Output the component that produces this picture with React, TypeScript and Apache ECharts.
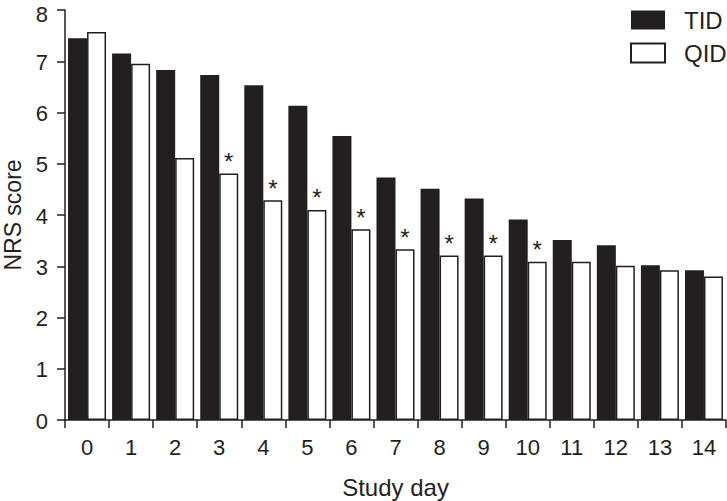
import React, { useEffect, useRef } from "react";
import * as echarts from "echarts";

const days = ["0", "1", "2", "3", "4", "5", "6", "7", "8", "9", "10", "11", "12", "13", "14"];
const tid = [7.45, 7.15, 6.83, 6.73, 6.53, 6.13, 5.54, 4.73, 4.51, 4.32, 3.91, 3.51, 3.41, 3.02, 2.92];
const qid = [7.57, 6.95, 5.11, 4.81, 4.29, 4.1, 3.72, 3.33, 3.21, 3.21, 3.09, 3.09, 3.01, 2.92, 2.8];
const marks = ["", "", "", "*", "*", "*", "*", "*", "*", "*", "*", "", "", "", ""];

const INK = "#231f20";
const FONT = "'Liberation Sans', Arial, Helvetica, sans-serif";

export default function App() {
  const ref = useRef<HTMLDivElement>(null);
  useEffect(() => {
    if (!ref.current) return;
    const chart = echarts.init(ref.current, undefined, { renderer: "svg" });
    chart.setOption({
      animation: false,
      textStyle: { fontFamily: FONT, color: INK },
      grid: { left: 65, right: 1, top: 10, bottom: 81, containLabel: false, outerBoundsMode: "none" },
      legend: {
        orient: "vertical",
        left: 625,
        top: 3,
        padding: 5,
        itemWidth: 34,
        itemHeight: 19,
        itemGap: 9,
        icon: "rect",
        textStyle: { fontSize: 24, color: INK, fontFamily: FONT, padding: [0, 0, 0, 14] },
        data: ["TID", "QID"],
      },
      xAxis: {
        type: "category",
        data: days,
        name: "Study day",
        nameLocation: "middle",
        nameGap: 55,
        nameTextStyle: { fontSize: 24, color: INK, fontFamily: FONT },
        axisLine: { lineStyle: { color: INK, width: 1.5 } },
        axisTick: { show: true, length: 8, lineStyle: { color: INK, width: 1.5 } },
        axisLabel: { fontSize: 22, color: INK, margin: 16, fontFamily: FONT },
      },
      yAxis: {
        type: "value",
        min: 0,
        max: 8,
        interval: 1,
        name: "NRS score",
        nameLocation: "middle",
        nameGap: 42,
        nameTextStyle: { fontSize: 23, color: INK, fontFamily: FONT, lineHeight: 20 },
        axisLine: { show: true, lineStyle: { color: INK, width: 1.5 } },
        axisTick: { show: true, length: 8, lineStyle: { color: INK, width: 1.5 } },
        axisLabel: {
          fontSize: 22,
          color: INK,
          margin: 17,
          fontFamily: FONT,
          lineHeight: 20,
          padding: [2, 0, 0, 0],
          formatter: (v: number) => (v === 8 ? "{t|8}" : String(v)),
          rich: { t: { fontSize: 22, color: INK, fontFamily: FONT, lineHeight: 20, padding: [7, 0, 0, 0] } },
        },
        splitLine: { show: false },
      },
      series: [
        {
          name: "TID",
          type: "bar",
          data: tid,
          barWidth: 19,
          barGap: "0%",
          itemStyle: { color: INK },
        },
        {
          name: "QID",
          type: "bar",
          data: qid,
          barWidth: 19,
          barGap: "0%",
          itemStyle: { color: "#ffffff", borderColor: INK, borderWidth: 1.5 },
          label: {
            show: true,
            position: "top",
            distance: 0,
            fontSize: 24,
            color: INK,
            fontFamily: FONT,
            formatter: (p: any) => marks[p.dataIndex],
          },
        },
      ],
    });
    return () => chart.dispose();
  }, []);
  return <div ref={ref} style={{ position: "fixed", left: 0, top: 0, width: 727, height: 501, background: "#fff" }} />;
}
